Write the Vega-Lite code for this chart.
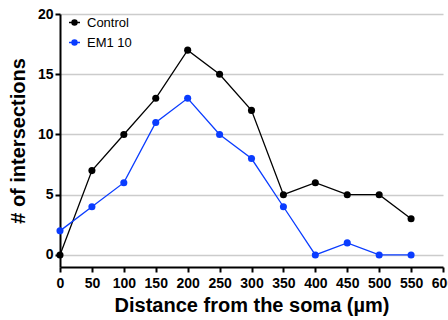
{
  "$schema": "https://vega.github.io/schema/vega-lite/v6.json",
  "autosize": {"type": "none"},
  "width": 383,
  "height": 253,
  "padding": {"left": 60, "top": 14, "right": 5, "bottom": 53},
  "config": {
    "font": "Liberation Sans",
    "view": {"stroke": null},
    "axis": {"domainColor": "#000", "domainWidth": 2, "tickColor": "#000", "tickWidth": 2, "tickSize": 5, "labelColor": "#000", "labelFont": "Liberation Sans", "labelFontWeight": "bold", "labelFontSize": 14, "titleFont": "Liberation Sans", "titleFontWeight": "bold", "titleFontSize": 20, "titleColor": "#000"}
  },
  "data": {"values": [
    {"d": 0, "n": 0, "g": "Control"},
    {"d": 50, "n": 7, "g": "Control"},
    {"d": 100, "n": 10, "g": "Control"},
    {"d": 150, "n": 13, "g": "Control"},
    {"d": 200, "n": 17, "g": "Control"},
    {"d": 250, "n": 15, "g": "Control"},
    {"d": 300, "n": 12, "g": "Control"},
    {"d": 350, "n": 5, "g": "Control"},
    {"d": 400, "n": 6, "g": "Control"},
    {"d": 450, "n": 5, "g": "Control"},
    {"d": 500, "n": 5, "g": "Control"},
    {"d": 550, "n": 3, "g": "Control"},
    {"d": 0, "n": 2, "g": "EM1 10"},
    {"d": 50, "n": 4, "g": "EM1 10"},
    {"d": 100, "n": 6, "g": "EM1 10"},
    {"d": 150, "n": 11, "g": "EM1 10"},
    {"d": 200, "n": 13, "g": "EM1 10"},
    {"d": 250, "n": 10, "g": "EM1 10"},
    {"d": 300, "n": 8, "g": "EM1 10"},
    {"d": 350, "n": 4, "g": "EM1 10"},
    {"d": 400, "n": 0, "g": "EM1 10"},
    {"d": 450, "n": 1, "g": "EM1 10"},
    {"d": 500, "n": 0, "g": "EM1 10"},
    {"d": 550, "n": 0, "g": "EM1 10"}
  ]},
  "encoding": {
    "x": {"field": "d", "type": "quantitative", "scale": {"domain": [0, 600], "nice": false}, "axis": {"values": [0,50,100,150,200,250,300,350,400,450,500,550,600], "grid": false, "labelFlush": false, "labelOverlap": false, "labelPadding": 4, "title": "Distance from the soma (µm)", "titlePadding": 5}},
    "y": {"field": "n", "type": "quantitative", "scale": {"domain": [-1, 20], "nice": false}, "axis": {"values": [0, 5, 10, 15, 20], "grid": true, "gridColor": "#cccccc", "gridWidth": 1.5, "title": "# of intersections", "titlePadding": 9}},
    "color": {"field": "g", "type": "nominal", "scale": {"domain": ["Control", "EM1 10"], "range": ["#000000", "#0a3cff"]}, "legend": {"title": null, "orient": "none", "legendX": 8, "legendY": 2, "labelFontSize": 13, "labelFont": "Liberation Sans", "labelColor": "#000", "symbolType": "M-1,0L1,0M-0.45,0A0.45,0.45 0 1,0 0.45,0A0.45,0.45 0 1,0 -0.45,0Z", "symbolSize": 120, "symbolStrokeWidth": 1.5, "rowPadding": 6, "labelOffset": 6}}
  },
  "layer": [
    {"mark": {"type": "line", "strokeWidth": 1.3}},
    {"mark": {"type": "point", "filled": true, "size": 50, "opacity": 1}}
  ]
}
